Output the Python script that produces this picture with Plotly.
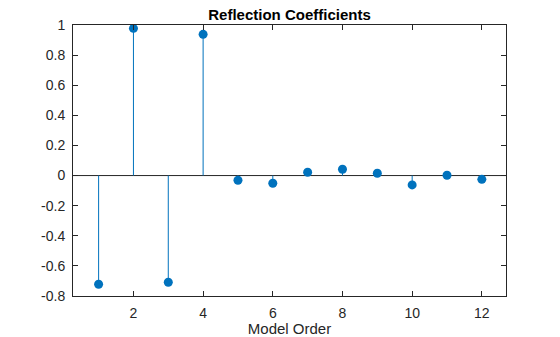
import plotly.graph_objects as go

# Reflection coefficients by model order
orders = [1, 2, 3, 4, 5, 6, 7, 8, 9, 10, 11, 12]
coeffs = [-0.722, 0.978, -0.709, 0.938, -0.031, -0.051, 0.022, 0.042, 0.015, -0.062, 0.002, -0.025]

y_ticks = [-0.8, -0.6, -0.4, -0.2, 0, 0.2, 0.4, 0.6, 0.8, 1]
y_labels = ["-0.8", "-0.6", "-0.4", "-0.2", "0", "0.2", "0.4", "0.6", "0.8", "1"]
x_ticks = [2, 4, 6, 8, 10, 12]

blue = "#0072BD"
axis_color = "#262626"

# stem lines: vertical segments from the baseline to each value
stem_x, stem_y = [], []
for x, y in zip(orders, coeffs):
    stem_x += [x, x, None]
    stem_y += [0, y, None]

fig = go.Figure()
fig.add_trace(go.Scatter(x=stem_x, y=stem_y, mode="lines",
                         line=dict(color=blue, width=1), hoverinfo="skip"))
fig.add_trace(go.Scatter(x=orders, y=coeffs, mode="markers",
                         marker=dict(color=blue, size=9, line=dict(width=0))))

# baseline at zero
fig.add_shape(type="line", xref="paper", yref="y", x0=0, x1=1, y0=0, y1=0,
              line=dict(color=axis_color, width=1), layer="below")

font = "Liberation Sans, Arial, sans-serif"
fig.update_layout(
    width=560, height=337,
    margin=dict(l=73, r=54, t=25, b=41, autoexpand=False),
    paper_bgcolor="white", plot_bgcolor="white",
    showlegend=False,
    font=dict(family=font, size=14, color=axis_color),
    title=dict(text="<b>Reflection Coefficients</b>", x=0.5, xanchor="center",
               xref="paper", y=1, yref="paper", yanchor="bottom", pad=dict(b=5),
               font=dict(size=15, color="#000000")),
)
fig.update_xaxes(range=[0.265, 12.6936], tickvals=x_ticks, ticks="inside", ticklen=5,
                 tickcolor=axis_color, showline=True, linecolor=axis_color, linewidth=1,
                 mirror="ticks", showgrid=False, zeroline=False, automargin=False,
                 ticklabelstandoff=4,
                 title=dict(text="Model Order", font=dict(size=15), standoff=2))
fig.update_yaxes(range=[-0.8, 1], tickvals=y_ticks, ticktext=y_labels, ticks="inside",
                 ticklen=5, tickcolor=axis_color, showline=True, linecolor=axis_color,
                 linewidth=1, mirror="ticks", showgrid=False, zeroline=False,
                 automargin=False, ticklabelstandoff=4)

fig.write_html("out.html")
